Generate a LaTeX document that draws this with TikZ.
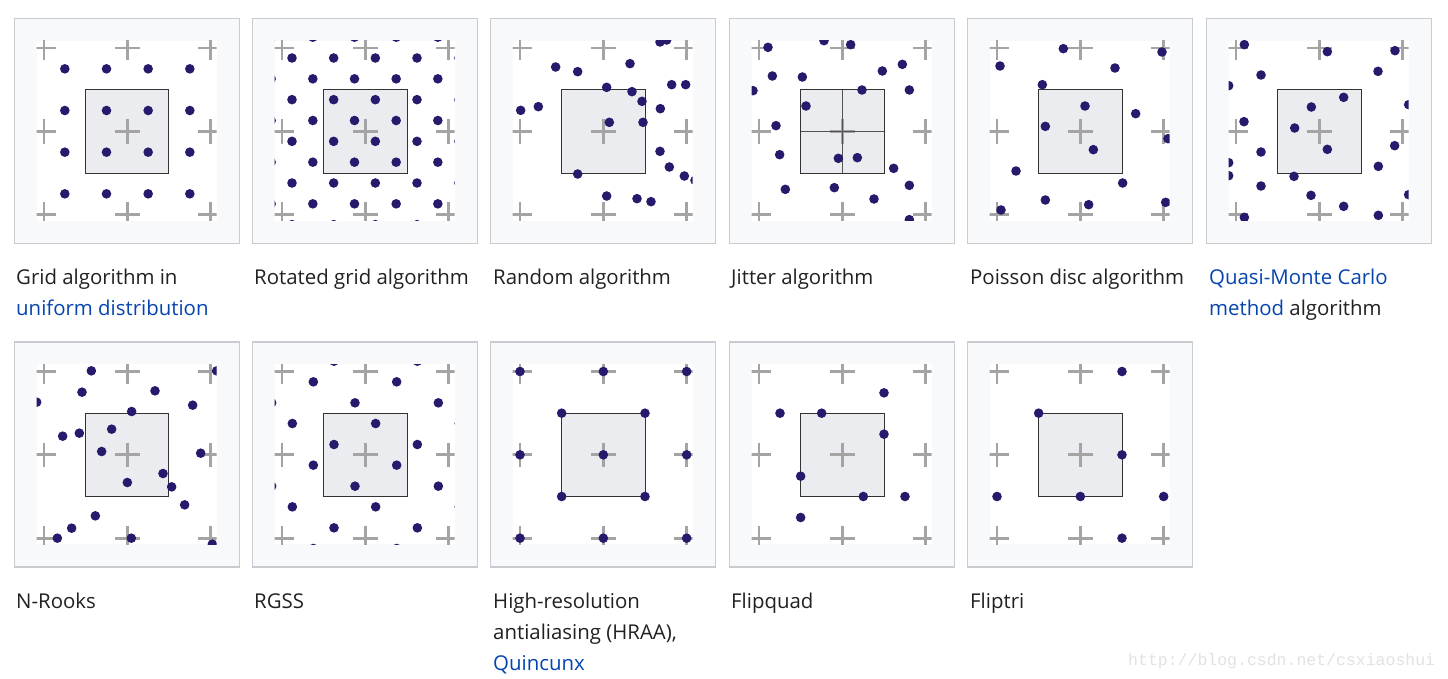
\documentclass[tikz,border=0pt]{standalone}
\usepackage{fontspec}
\setmainfont{Open Sans}
\setmonofont{Liberation Mono}
\definecolor{panelbg}{HTML}{F8F9FA}
\definecolor{panelbd}{HTML}{C8CCD1}
\definecolor{sqfill}{HTML}{EAECF0}
\definecolor{sqbd}{HTML}{333333}
\definecolor{plusc}{HTML}{A4A4A4}
\definecolor{dotc}{HTML}{261A6C}
\definecolor{txt}{HTML}{202122}
\definecolor{lnk}{HTML}{0645AD}
\definecolor{wmc}{HTML}{E2E2E2}
\tikzset{
  panelbox/.style={fill=panelbg, draw=panelbd, line width=1.3pt},
  plusmark/.style={draw=plusc, line width=2.7pt},
  sqline/.style={draw=sqbd, line width=1pt},
  quadline/.style={draw=sqbd!85, line width=0.9pt},
  lbl/.style={anchor=base west, inner sep=0pt, text=txt, font=\fontsize{20.4}{31}\selectfont},
  wmark/.style={anchor=base west, inner sep=0pt, text=wmc},
}
\newcommand\sdot[2]{\fill[dotc] ({#1},{#2}) circle (4.8pt);}
\newcommand\smpanel[3]{%
  \begin{scope}[shift={(#1,#2)},x=0.33333pt,y=-0.33333pt]
    \draw[panelbox] (1.5,1.5) rectangle (676.5,676.5);
    \fill[white] (68,68) rectangle (608,608);
    \begin{scope}
      \clip (68,68) rectangle (608,608);
      \fill[sqfill] (215,215) rectangle (465,465);
      \foreach \px in {90,340,590}{\foreach \py in {90,340,590}{
        \draw[plusmark] ({\px-37},\py) -- ({\px+37},\py) (\px,{\py-37}) -- (\px,{\py+37});}}
      \draw[sqline] (215,215) rectangle (465,465);
      #3
    \end{scope}
  \end{scope}}
\begin{document}
\begin{tikzpicture}[x=1pt,y=-1pt]
\useasboundingbox[fill=white] (0,0) rectangle (1448,678);

% 1 Grid
\smpanel{14}{18}{%
  \foreach \a in {152.5,277.5,402.5,527.5}{\foreach \b in {152.5,277.5,402.5,527.5}{\sdot{\a}{\b}}}}
% 2 Rotated grid
\smpanel{252}{18}{%
  \foreach \a in {-1,...,4}{\foreach \b in {-1,...,4}{\sdot{120+125*\a}{120+125*\b}}}
  \foreach \a in {0,...,5}{\foreach \b in {0,...,5}{\sdot{57.5+125*\a}{57.5+125*\b}}}}
% 3 Random
\smpanel{490}{18}{%
  \foreach \a/\b in {510/72,530/66,197/147,263/161,420/137,350/208,426/221,545/200,587/200,456/250,511/272,92/277,145/266,358/313,459/313,510/400,538/447,583/474,615/487,263/468,350/534,441/542,483/551}{\sdot{\a}{\b}}}
% 4 Jitter
\smpanel{729}{18}{%
  \draw[quadline] (340,215) -- (340,465) (215,340) -- (465,340);
  \foreach \a/\b in {117/88,285/68,365/80,130/174,220/177,460/159,520/139,72/218,399/216,541/216,231/264,141/323,152/410,328/421,385/419,494/451,541/502,169/514,316/509,435/543,541/605}{\sdot{\a}{\b}}}
% 5 Poisson disc
\smpanel{967}{18}{%
  \foreach \a/\b in {289/92,99/144,444/150,585/102,226/200,354/264,506/287,235/325,603/362,379/395,147/459,467/495,235/546,365/560,596/553,102/576}{\sdot{\a}{\b}}}
% 6 Quasi-Monte Carlo
\smpanel{1206}{18}{%
  \foreach \a/\b in {115/80,364/101,567/98,165/171,516/160,68/203,413/238,316/267,608/260,114/311,266/330,364/394,566/383,165/402,68/434,68/473,517/445,264/475,165/504,315/532,608/530,413/565,517/592,115/598}{\sdot{\a}{\b}}}
% 7 N-Rooks
\smpanel{14}{341.5}{%
  \foreach \a/\b in {232/88,608/88,204/152,423/148,68/182,536/191,353/210,146/284,196/275,293/263,263/330,560/335,447/396,473/436,340/423,512/490,244/523,173/560,130/590,352/590,595/608}{\sdot{\a}{\b}}}
% 8 RGSS
\smpanel{252}{341.5}{%
  \foreach \m in {-1,0,1}{\foreach \n in {-1,0,1}{\foreach \ox/\oy in {31/-94,-94/-31,94/31,-31/94}{\sdot{340+250*\m+\ox}{340+250*\n+\oy}}}}}
% 9 HRAA / Quincunx
\smpanel{490}{341.5}{%
  \foreach \a in {90,340,590}{\foreach \b in {90,340,590}{\sdot{\a}{\b}}}
  \foreach \a/\b in {215/215,465/215,215/465,465/465}{\sdot{\a}{\b}}}
% 10 Flipquad
\smpanel{729}{341.5}{%
  \foreach \a/\b in {465/154,153/215,278/215,465/278,215/404,403/465,528/465,215/528}{\sdot{\a}{\b}}}
% 11 Fliptri
\smpanel{967}{341.5}{%
  \foreach \a/\b in {465/90,215/215,465/340,90/465,340/465,590/465,465/590}{\sdot{\a}{\b}}}

% labels row 1
\node[lbl] (l1a) at (16,284) {Grid algorithm in};
\node[lbl,text=lnk] (l1b) at (16,315) {uniform distribution};
\node[lbl] (l2) at (254,284) {Rotated grid algorithm};
\node[lbl] (l3) at (493,284) {Random algorithm};
\node[lbl] (l4) at (731,284) {Jitter algorithm};
\node[lbl] (l5) at (970,284) {Poisson disc algorithm};
\node[lbl,text=lnk] (l6a) at (1209,284) {Quasi-Monte Carlo};
\node[lbl] (l6b) at (1209,315) {\textcolor{lnk}{method} algorithm};
% labels row 2
\node[lbl] (l7) at (16,608) {N-Rooks};
\node[lbl] (l8) at (254,608) {RGSS};
\node[lbl] (l9a) at (493,608) {High-resolution};
\node[lbl] (l9b) at (493,639) {antialiasing (HRAA),};
\node[lbl,text=lnk] (l9c) at (493,670) {Quincunx};
\node[lbl] (l10) at (731,608) {Flipquad};
\node[lbl] (l11) at (970,608) {Fliptri};

% watermark
\node[wmark,font=\ttfamily\fontsize{16.5}{18}\selectfont] (wm1) at (1128,665) {http://blog.csdn.net/csxiaoshui};
\end{tikzpicture}
\end{document}
